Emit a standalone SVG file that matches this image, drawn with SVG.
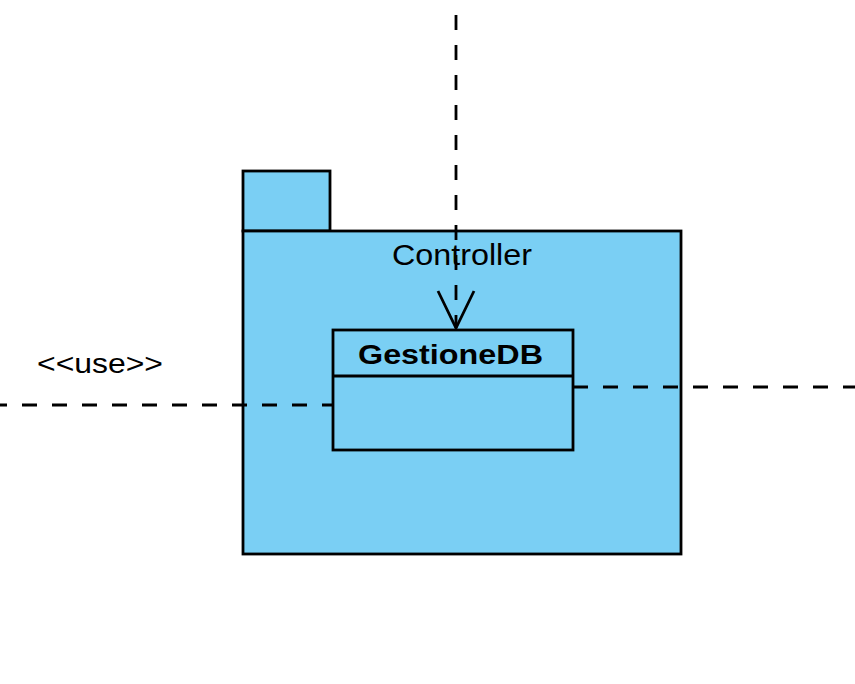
<svg xmlns="http://www.w3.org/2000/svg" width="855" height="684" viewBox="0 0 855 684">
<style>
.shape{fill:#7ACFF4;stroke:#000;stroke-width:2.8}
.lbl{font-family:"Liberation Sans",Arial,sans-serif;fill:#000}
.dep{fill:none;stroke:#000;stroke-width:2.8;stroke-dasharray:15 15}
.head{fill:none;stroke:#000;stroke-width:2.8}
</style>
<rect width="855" height="684" fill="#fff"/>
<g id="Controller">
<rect class="shape" x="243" y="171" width="87" height="60"/>
<rect class="shape" x="243" y="231" width="438" height="323"/>
<text class="lbl" x="392" y="265" font-size="29.5" textLength="140" lengthAdjust="spacingAndGlyphs">Controller</text>
</g>
<g id="GestioneDB">
<rect class="shape" x="333" y="330" width="240" height="120"/>
<line x1="333" y1="376" x2="573" y2="376" stroke="#000" stroke-width="2.8"/>
<text class="lbl" x="358" y="364" font-size="28.5" font-weight="bold" textLength="185" lengthAdjust="spacingAndGlyphs">GestioneDB</text>
</g>
<g id="connectors">
<path class="dep" d="M456,0 L456,328" stroke-dashoffset="15"/>
<path class="head" d="M438,291 L456,328 L474,291"/>
<path class="dep" d="M0,405 L333,405" stroke-dashoffset="8"/>
<path class="dep" d="M573,387 L855,387"/>
<text class="lbl" x="37" y="373" font-size="28" textLength="126" lengthAdjust="spacingAndGlyphs">&lt;&lt;use&gt;&gt;</text>
</g>
</svg>
